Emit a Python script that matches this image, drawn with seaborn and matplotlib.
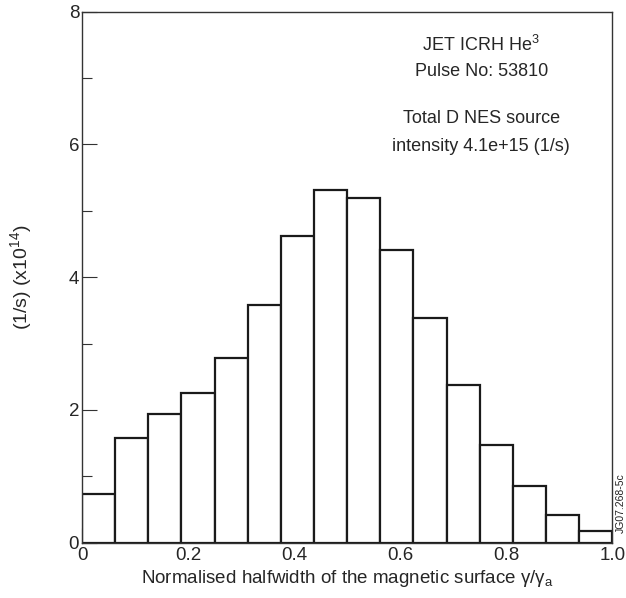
import matplotlib
matplotlib.use("Agg")
import matplotlib.pyplot as plt
import seaborn as sns
import numpy as np
from matplotlib.ticker import MultipleLocator

bin_edges = [0, 0.0625, 0.125, 0.1875, 0.25, 0.3125, 0.375, 0.4375, 0.5,
             0.5625, 0.625, 0.6875, 0.75, 0.8125, 0.875, 0.9375, 1.0]
intensity = [0.73, 1.58, 1.94, 2.25, 2.78, 3.58, 4.62, 5.31, 5.2,
             4.41, 3.39, 2.38, 1.47, 0.86, 0.42, 0.17]
x_ticks = [0, 0.2, 0.4, 0.6, 0.8, 1.0]
x_tick_labels = ["0", "0.2", "0.4", "0.6", "0.8", "1.0"]
y_ticks = [0, 2, 4, 6, 8]
annotation_lines = ["JET ICRH He$\\mathregular{^3}$", "Pulse No: 53810",
                    "Total D NES source", "intensity 4.1e+15 (1/s)"]

sns.set_style("ticks")
plt.rcParams['font.family'] = ['Liberation Sans', 'DejaVu Sans']

fig = plt.figure(figsize=(6.26, 5.98), dpi=100)
ax = fig.add_axes([0.131, 0.0925, 0.847, 0.888])

centers = [(bin_edges[i] + bin_edges[i + 1]) / 2 for i in range(len(intensity))]
sns.histplot(x=centers, weights=intensity, bins=bin_edges, ax=ax,
             color="white", edgecolor="#1a1a1a", linewidth=1.6, alpha=1)

ax.set_xlim(0, 1.0)
ax.set_ylim(0, 8)
ax.set_xticks(x_ticks)
ax.set_xticklabels(x_tick_labels)
ax.set_yticks(y_ticks)
ax.xaxis.set_minor_locator(MultipleLocator(0.1))
ax.yaxis.set_minor_locator(MultipleLocator(1))
ax.tick_params(which="major", direction="in", length=11, width=0.8, labelsize=13.5,
               color="#333333", pad=2)
ax.tick_params(which="minor", direction="in", length=7, width=0.8, color="#333333")
ax.tick_params(axis="x", which="major", pad=3)
for s in ax.spines.values():
    s.set_linewidth(1.0)
    s.set_color("#333333")

ax.set_xlabel(r"Normalised halfwidth of the magnetic surface $\mathregular{\gamma/\gamma_a}$",
              fontsize=13.5, labelpad=3)
ax.set_ylabel(r"(1/s) (x10$\mathregular{^{14}}$)", fontsize=14, labelpad=25)

line_y = [0.938, 0.887, 0.798, 0.747]
for txt, yy in zip(annotation_lines, line_y):
    ax.text(0.753, yy, txt, transform=ax.transAxes, ha="center", va="center",
            fontsize=13)

fig.text(0.991, 0.108, "JG07.268-5c", rotation=90, ha="center", va="bottom",
         fontsize=7.5, color="#222222")

fig.savefig("out.png", dpi=100, facecolor="white")
